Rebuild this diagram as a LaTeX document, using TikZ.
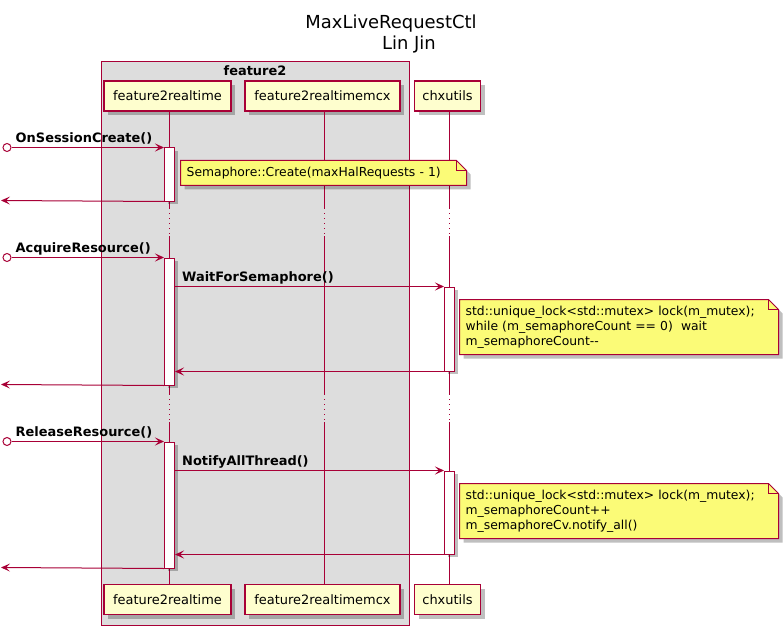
\documentclass[tikz,border=0pt]{standalone}
\usepackage{fontspec}
\setmainfont{DejaVu Sans}
\usetikzlibrary{arrows.meta,calc,shadows}

\definecolor{umlred}{HTML}{A80036}
\definecolor{partyellow}{HTML}{FEFECE}
\definecolor{noteyellow}{HTML}{FBFB77}
\definecolor{boxgray}{HTML}{DDDDDD}

\tikzset{
  part/.style={draw=umlred, fill=partyellow, line width=1.5bp, minimum height=30bp,
    inner xsep=0, font=\fontsize{13}{15}\selectfont,
    drop shadow={shadow xshift=4bp, shadow yshift=-4bp, fill=black, opacity=0.25}},
  grpbox/.style={draw=umlred, fill=boxgray, line width=1bp, inner sep=0},
  grplabel/.style={font=\bfseries\fontsize{13}{15}\selectfont, inner ysep=4bp},
  titletext/.style={font=\fontsize{18}{21}\selectfont, inner sep=0},
  life/.style={draw=umlred, line width=1bp},
  delay/.style={draw=umlred, line width=1bp, dash pattern=on 1bp off 4bp},
  actbar/.style={draw=umlred, fill=white, line width=1bp, minimum width=10bp, inner sep=0,
    drop shadow={shadow xshift=3bp, shadow yshift=-3bp, fill=black, opacity=0.25}},
  msg/.style={draw=umlred, line width=1bp, -{Stealth[length=9bp,width=8bp,inset=4bp]}},
  startdot/.style={circle, draw=umlred, fill=white, line width=1bp, minimum size=8bp, inner sep=0},
  lbl/.style={font=\bfseries\fontsize{13}{15}\selectfont, anchor=base west, inner sep=0},
  notebox/.style={draw=umlred, fill=noteyellow, line width=1bp},
  notetext/.style={anchor=west, align=left, inner xsep=6bp, inner ysep=0,
    font=\fontsize{12.4}{15}\selectfont}
}

% note with folded corner: x, y, width, height, name, text
\newcommand\umlnote[6]{%
  \pgfmathsetmacro\notetw{#3-12}%
  \fill[black, opacity=0.25] (#1+4,#2+4) -- ++(#3-10,0) -- ++(10,10) -- ++(0,#4-10) -- ++(-#3,0) -- cycle;
  \filldraw[notebox] (#1,#2) -- ++(#3-10,0) -- ++(10,10) -- ++(0,#4-10) -- ++(-#3,0) -- cycle;
  \draw[notebox, fill=none] (#1+#3-10,#2) |- (#1+#3,#2+10);
  \node[notetext, text width=\notetw bp] (#5) at (#1,#2+#4/2) {#6};
}

\begin{document}
\begin{tikzpicture}[x=1bp,y=-1bp]
  \useasboundingbox (0,0) rectangle (784,629);
  \fill[white] (0,0) rectangle (784,629);

  % title
  \node[titletext, anchor=base] (title) at (391,29) {MaxLiveRequestCtl};
  \node[titletext, anchor=base] (author) at (409,50) {Lin Jin};

  % box feature2
  \node[grpbox, anchor=north west, minimum width=308bp, minimum height=563bp] (grp) at (100.5,61.5) {};
  \node[grplabel, anchor=north] (grpname) at (grp.north) {feature2};

  % participants, top and bottom
  \foreach \p/\x/\w/\t in {rt/167.5/127/feature2realtime,
                           mcx/322.5/155/feature2realtimemcx,
                           chx/447.5/66/chxutils} {
    \node[part, minimum width=\w bp] (\p-top) at (\x,96) {\t};
    \node[part, minimum width=\w bp] (\p-bot) at (\x,599.5) {\t};
  }

  % lifelines, two delays
  \coordinate (dA) at (0,208);
  \coordinate (dB) at (0,236);
  \coordinate (dC) at (0,394);
  \coordinate (dD) at (0,422);
  \foreach \p in {rt,mcx,chx} {
    \coordinate (\p-x) at ($(\p-top.south)+(2,0)$);
    \draw[life]  (\p-x) -- (\p-x |- dA);
    \draw[delay] (\p-x |- dA) -- (\p-x |- dB);
    \draw[life]  (\p-x |- dB) -- (\p-x |- dC);
    \draw[delay] (\p-x |- dC) -- (\p-x |- dD);
    \draw[life]  (\p-x |- dD) -- (\p-x |- \p-bot.north);
  }

  % activations
  \node[actbar, minimum height=53bp,  anchor=north] (a1) at (169.5,147.5) {};
  \node[actbar, minimum height=127bp, anchor=north] (a2) at (169.5,257.5) {};
  \node[actbar, minimum height=126bp, anchor=north] (a3) at (169.5,441.5) {};
  \node[actbar, minimum height=84bp,  anchor=north] (c1) at (449.5,286.5) {};
  \node[actbar, minimum height=83bp,  anchor=north] (c2) at (449.5,470.5) {};

  % OnSessionCreate
  \node[startdot] (s1) at (7,147.5) {};
  \coordinate (out1) at (1,200.5);
  \draw[msg] (s1) -- (a1.north west);
  \node[lbl] (l1) at ($(s1.east)+(4,-5)$) {OnSessionCreate()};
  \draw[msg] (a1.south west) -- (out1);

  % AcquireResource
  \node[startdot] (s2) at (7,257.5) {};
  \coordinate (out2) at (1,384.5);
  \draw[msg] (s2) -- (a2.north west);
  \node[lbl] (l2) at ($(s2.east)+(4,-5)$) {AcquireResource()};
  \draw[msg] (a2.east |- c1.north west) -- (c1.north west);
  \node[lbl] (l3) at ($(a2.east |- c1.north west)+(7,-5)$) {WaitForSemaphore()};
  \draw[msg] (c1.south west) -- (a2.east |- c1.south west);
  \draw[msg] (a2.south west) -- (out2);

  % ReleaseResource
  \node[startdot] (s3) at (7,441.5) {};
  \coordinate (out3) at (1,567.5);
  \draw[msg] (s3) -- (a3.north west);
  \node[lbl] (l4) at ($(s3.east)+(4,-5)$) {ReleaseResource()};
  \draw[msg] (a3.east |- c2.north west) -- (c2.north west);
  \node[lbl] (l5) at ($(a3.east |- c2.north west)+(7,-5)$) {NotifyAllThread()};
  \draw[msg] (c2.south west) -- (a3.east |- c2.south west);
  \draw[msg] (a3.south west) -- (out3);

  % notes
  \umlnote{180.5}{160.5}{286}{25}{n1}{Semaphore::Create(maxHalRequests - 1)}
  \umlnote{459.5}{299.5}{319}{55}{n2}{std::unique\_lock<std::mutex> lock(m\_mutex);\\
    while (m\_semaphoreCount == 0)\ \ wait\\
    m\_semaphoreCount-{}-}
  \umlnote{459.5}{483.5}{319}{55}{n3}{std::unique\_lock<std::mutex> lock(m\_mutex);\\
    m\_semaphoreCount++\\
    m\_semaphoreCv.notify\_all()}
\end{tikzpicture}
\end{document}
